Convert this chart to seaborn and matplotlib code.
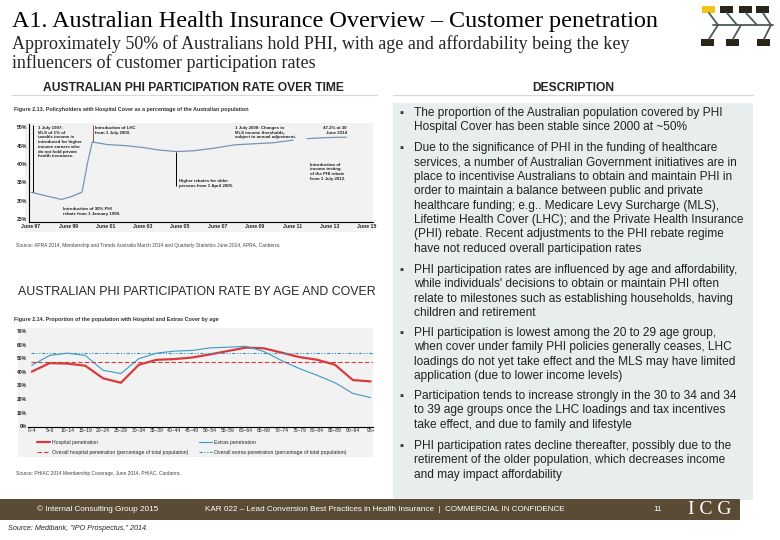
import numpy as np
import pandas as pd
import matplotlib
matplotlib.use("Agg")
import matplotlib.pyplot as plt
from matplotlib.patches import Rectangle
from matplotlib.lines import Line2D
import seaborn as sns

# %% Data

# Figure 2.13 - hospital cover as % of population over time
cover_year = [1997.55, 1998.3, 1999.15, 1999.7, 2000.25, 2000.55, 2000.8,
              2001.6, 2002.6, 2003.5, 2004.4, 2005.3, 2006.2, 2007.3,
              2008.4, 2009.4, 2010.5, 2011.55,
              2012.3, 2013.4, 2014.4]
cover_pct = [32.3, 31.4, 30.4, 31.2, 32.4, 40.5, 46.0,
             45.3, 45.0, 44.5, 43.8, 43.4, 43.6, 44.3,
             45.2, 45.5, 45.8, 46.5,
             46.9, 47.2, 47.3]
cover_segment = [1] * 18 + [2] * 3
cover_ticks = [1997.5 + 2 * i for i in range(10)]
cover_tick_labels = ["June 97", "June 99", "June 01", "June 03", "June 05",
                     "June 07", "June 09", "June 11", "June 13", "June 15"]
cover_yticks = [25, 30, 35, 40, 45, 50]

# events marked with vertical lines (year, top, bottom)
event_year = [1997.6, 2000.85, 2005.3]
event_top = [50.5, 50.5, 43.4]
event_bottom = [32.3, 45.9, 34.0]
event_color = ["black", "#a0504a", "black"]

# Figure 2.14 - penetration by age group
age_groups = ["0–4", "5–9", "10–14", "15–19", "20–24", "25–29", "30–34",
              "35–39", "40–44", "45–49", "50–54", "55–59", "60–64", "65–69",
              "70–74", "75–79", "80–84", "85–89", "90–94", "95+"]
hospital = [40.2, 46.5, 46.2, 44.6, 35.3, 32.0, 45.3, 49.0, 49.5, 50.7,
            53.0, 55.5, 58.0, 57.5, 54.3, 51.0, 49.0, 45.3, 34.0, 33.0]
extras = [44.9, 52.2, 53.9, 52.2, 41.2, 38.8, 49.8, 53.9, 55.4, 55.9,
          57.8, 58.3, 59.0, 55.2, 48.5, 42.5, 37.5, 32.0, 24.1, 21.0]
overall_hospital = 47.0
overall_extras = 53.8
age_yticks = [0, 10, 20, 30, 40, 50, 60, 70]

bullets = [
    "The proportion of the Australian population covered by PHI\n"
    "Hospital Cover has been stable since 2000 at ~50%",
    "Due to the significance of PHI in the funding of healthcare\n"
    "services, a number of Australian Government initiatives are in\n"
    "place to incentivise Australians to obtain and maintain PHI in\n"
    "order to maintain a balance between public and private\n"
    "healthcare funding; e.g.. Medicare Levy Surcharge (MLS),\n"
    "Lifetime Health Cover (LHC); and the Private Health Insurance\n"
    "(PHI) rebate. Recent adjustments to the PHI rebate regime\n"
    "have not reduced overall participation rates",
    "PHI participation rates are influenced by age and affordability,\n"
    "while individuals' decisions to obtain or maintain PHI often\n"
    "relate to milestones such as establishing households, having\n"
    "children and retirement",
    "PHI participation is lowest among the 20 to 29 age group,\n"
    "when cover under family PHI policies generally ceases, LHC\n"
    "loadings do not yet take effect and the MLS may have limited\n"
    "application (due to lower income levels)",
    "Participation tends to increase strongly in the 30 to 34 and 34\n"
    "to 39 age groups once the LHC loadings and tax incentives\n"
    "take effect, and due to family and lifestyle",
    "PHI participation rates decline thereafter, possibly due to the\n"
    "retirement of the older population, which decreases income\n"
    "and may impact affordability",
]
bullet_y = [113, 148, 270, 333, 396, 446]

# %% Setup
sns.set_theme(style="white")
plt.rcParams['font.family'] = ['Liberation Sans', 'DejaVu Sans']

W, H = 780, 540
fig = plt.figure(figsize=(W / 100, H / 100), dpi=100)


def box(x0, y0, x1, y1):
    # pixel box (top-left origin) -> figure fraction
    return [x0 / W, 1 - y1 / H, (x1 - x0) / W, (y1 - y0) / H]


# full-page axes in pixel units for the slide furniture
bg = fig.add_axes([0, 0, 1, 1])
bg.set_xlim(0, W)
bg.set_ylim(H, 0)
bg.axis("off")

serif = ['Liberation Serif', 'DejaVu Serif']
narrow = ['Liberation Sans Narrow', 'Liberation Sans', 'DejaVu Sans']

bg.text(12, 21, "A1. Australian Health Insurance Overview – Customer penetration",
        family=serif, fontsize=17.4, va="center", color="black")
bg.text(12, 44, "Approximately 50% of Australians hold PHI, with age and "
        "affordability being the key", family=serif, fontsize=13,
        va="center")
bg.text(12, 63, "influencers of customer participation rates", family=serif,
        fontsize=13, va="center")

bg.text(193, 88, "AUSTRALIAN PHI PARTICIPATION RATE OVER TIME", family=narrow,
        weight="bold", fontsize=8.7, ha="center", va="center")
bg.text(573, 88, "DESCRIPTION", family=narrow, weight="bold", fontsize=8.7,
        ha="center", va="center")
bg.plot([12, 377], [95, 95], color="#d8d8d8", lw=0.8)
bg.plot([393, 753], [95, 95], color="#d8d8d8", lw=0.8)
bg.text(18, 292, "AUSTRALIAN PHI PARTICIPATION RATE BY AGE AND COVER",
        fontsize=8.9, va="center")

# description box
bg.add_patch(Rectangle((393, 103), 360, 397, color="#e8eeee", lw=0))
for txt, y0 in zip(bullets, bullet_y):
    bg.text(401, y0, "▪", fontsize=8, va="center", ha="center",
            color="#333333")
    for i, line in enumerate(txt.split("\n")):
        bg.text(414, y0 + i * 14.4, line, fontsize=8.6, va="center",
                color="#222222")

# logo
bg.add_patch(Rectangle((702, 6), 13, 7, color="#f3c41b", lw=0))
for x in [720, 739, 756]:
    bg.add_patch(Rectangle((x, 6), 13, 7, color="#2b2419", lw=0))
for x in [701, 726, 757]:
    bg.add_patch(Rectangle((x, 39), 13, 7, color="#2b2419", lw=0))
bone = "#4a5b5b"
bg.plot([713, 773], [25, 25], color=bone, lw=1.3)
for x0, x1 in [(709, 718), (727, 737), (746, 757), (763, 771)]:
    bg.plot([x0, x1], [13, 25], color=bone, lw=1.3)
for x0, x1 in [(709, 718), (733, 741), (764, 771)]:
    bg.plot([x0, x1], [39, 25], color=bone, lw=1.3)

# footer
bg.add_patch(Rectangle((0, 499), 740, 21, color="#5a4b34", lw=0))
bg.text(98, 509.5, "© Internal Consulting Group 2015", color="white",
        fontsize=5.9, ha="center", va="center", family=narrow)
bg.text(385, 509.5, "KAR 022 – Lead Conversion Best Practices in Health "
        "Insurance  |  COMMERCIAL IN CONFIDENCE", color="white", fontsize=5.9,
        ha="center", va="center", family=narrow)
bg.text(658, 509.5, "11", color="white", fontsize=5.9, ha="center",
        va="center")
bg.text(710, 510, "I C G", color="white", fontsize=14, family=serif,
        ha="center", va="center")
bg.text(8, 528, 'Source: Medibank, "IPO Prospectus," 2014.', fontsize=5.2,
        style="italic", va="center")

# chart image backgrounds
bg.add_patch(Rectangle((25, 123), 348, 109, color="#f2f2f2", lw=0))
bg.add_patch(Rectangle((18, 328), 355, 129, color="#f2f2f2", lw=0))

bg.text(14, 109, "Figure 2.13. Policyholders with Hospital Cover as a "
        "percentage of the Australian population", fontsize=3.9,
        weight="bold", va="center", color="#333333")
bg.text(16, 246, "Source: APRA 2014, Membership and Trends Australia March "
        "2014 and Quarterly Statistics June 2014, APRA, Canberra.",
        fontsize=3.5, va="center", color="#444444")
bg.text(14, 319, "Figure 2.14. Proportion of the population with Hospital "
        "and Extras Cover by age", fontsize=3.9, weight="bold", va="center",
        color="#333333")
bg.text(16, 473, "Source: PHIAC 2014 Membership Coverage, June 2014, PHIAC, "
        "Canberra.", fontsize=3.5, va="center", color="#444444")

# %% Chart 1 - participation over time
ax1 = fig.add_axes(box(29, 124.3, 373, 221.7))
ax1.set_facecolor("none")
cover = pd.DataFrame({"year": cover_year, "pct": cover_pct,
                      "segment": cover_segment})
sns.lineplot(data=cover, x="year", y="pct", units="segment", estimator=None,
             color="#7694bb", lw=0.9, ax=ax1)
ax1.vlines(event_year, event_bottom, event_top, colors=event_color, lw=0.7)
ax1.set_xlim(1997.41, 2015.83)
ax1.set_ylim(24.35, 50.8)
ax1.set_xticks(cover_ticks, cover_tick_labels)
ax1.set_yticks(cover_yticks, [f"{v}%" for v in cover_yticks])
ax1.tick_params(length=0, pad=1.3, labelsize=3.7, colors="#222222")
for lab in ax1.get_xticklabels() + ax1.get_yticklabels():
    lab.set_fontweight("bold")
ax1.set_xlabel("")
ax1.set_ylabel("")
for side in ["top", "right"]:
    ax1.spines[side].set_visible(False)
for side in ["left", "bottom"]:
    ax1.spines[side].set_color("black")
    ax1.spines[side].set_linewidth(0.8)

note = dict(fontsize=3.2, weight="bold", va="top", color="#222222",
            linespacing=1.25)
ax1.text(1997.9, 50.4, "1 July 1997:\nMLS of 1% of\ntaxable income is\n"
         "introduced for higher\nincome earners who\ndo not hold private\n"
         "health insurance.", **note)
ax1.text(2000.95, 50.4, "Introduction of LHC\nfrom 1 July 2000.", **note)
ax1.text(1999.25, 28.3, "Introduction of 30% PHI\nrebate from 1 January "
         "1999.", **note)
ax1.text(2005.45, 35.9, "Higher rebates for older\npersons from 1 April "
         "2005.", **note)
ax1.text(2008.45, 50.4, "1 July 2008: Changes to\nMLS income thresholds,\n"
         "subject to annual adjustment.", **note)
ax1.text(2014.43, 50.4, "47.2% at 30\nJune 2014", ha="right", **note)
ax1.text(2012.43, 40.4, "Introduction of\nincome testing\nof the PHI rebate\n"
         "from 1 July 2012.", **note)

# %% Chart 2 - participation by age
ax2 = fig.add_axes(box(28, 328, 373, 426.7))
ax2.set_facecolor("none")
idx = np.arange(len(age_groups))
sns.lineplot(x=idx, y=hospital, color="#d93a3c", lw=1.6, ax=ax2)
sns.lineplot(x=idx, y=extras, color="#3b9ac2", lw=0.8, ax=ax2)
ax2.axhline(overall_hospital, xmin=0.01, color="#d33b3b", lw=0.8,
            ls=(0, (4, 2)))
ax2.axhline(overall_extras, xmin=0.01, color="#3a93bc", lw=0.8,
            ls=(0, (3, 1.5, 1, 1.5, 1, 1.5)))
ax2.set_xlim(-0.21, 19.13)
ax2.set_ylim(-0.5, 72.5)
ax2.set_xticks(idx, age_groups)
ax2.set_yticks(age_yticks, [f"{v}%" for v in age_yticks])
ax2.tick_params(length=0, pad=1.0, labelsize=3.6, colors="#222222")
for lab in ax2.get_yticklabels():
    lab.set_fontweight("bold")
for side in ["top", "right", "left"]:
    ax2.spines[side].set_visible(False)
ax2.spines["bottom"].set_color("black")
ax2.spines["bottom"].set_linewidth(0.8)

handles = [
    Line2D([], [], color="#d93a3c", lw=1.6, label="Hospital penetration"),
    Line2D([], [], color="#d33b3b", lw=0.8, ls=(0, (4, 2)),
           label="Overall hospital penetration (percentage of total population)"),
    Line2D([], [], color="#3b9ac2", lw=0.8, label="Extras penetration"),
    Line2D([], [], color="#3a93bc", lw=0.8, ls=(0, (3, 1.5, 1, 1.5, 1, 1.5)),
           label="Overall extras penetration (percentage of total population)"),
]
ax2.legend(handles=handles, ncol=2, loc="upper left", frameon=False,
           bbox_to_anchor=(37 / W, 1 - 440 / H),
           bbox_transform=fig.transFigure, fontsize=3.7, handlelength=2.6,
           handletextpad=0.4, labelspacing=0.9, columnspacing=2.0,
           borderpad=0, borderaxespad=0)

fig.savefig("out.png", dpi=100)
